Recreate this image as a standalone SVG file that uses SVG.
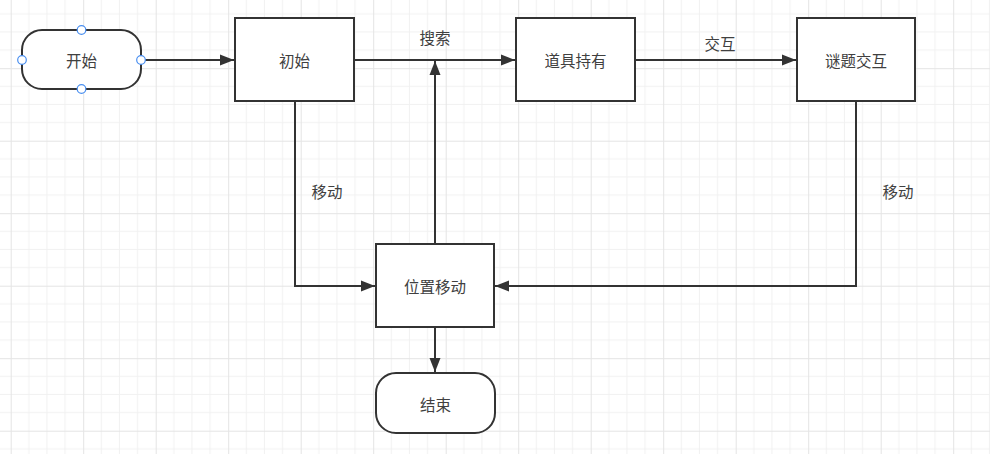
<svg xmlns="http://www.w3.org/2000/svg" width="990" height="454" viewBox="0 0 990 454">
<style>
.node{fill:#ffffff;stroke:#333333;stroke-width:2}
.lbl{font-family:"Noto Sans CJK SC","Noto Sans",sans-serif;font-size:15.5px;fill:#404040;text-anchor:middle;dominant-baseline:central}
.edge{fill:none;stroke:#333333;stroke-width:2}
.handle{fill:#ffffff;stroke:#4a8ff0;stroke-width:1.2}
</style>
<defs>
<pattern id="grid" patternUnits="userSpaceOnUse" x="10.7" y="-4.3" width="72.5" height="72.5">
<path d="M18.125 0V72.5M36.25 0V72.5M54.375 0V72.5M0 18.125H72.5M0 36.25H72.5M0 54.375H72.5" stroke="#f1f1f1" stroke-width="1" fill="none"/>
<path d="M0.5 0V72.5M0 0.5H72.5" stroke="#e4e4e4" stroke-width="1" fill="none"/>
</pattern>
<marker id="arr" markerUnits="userSpaceOnUse" markerWidth="16" markerHeight="12" refX="14" refY="6" orient="auto">
<path d="M0 0.5L14 6L0 11.5Z" fill="#333333"/>
</marker>
</defs>
<rect width="990" height="454" fill="#ffffff"/>
<rect width="990" height="454" fill="url(#grid)"/>
<g id="connectors">
<path class="edge" d="M141 60H234" marker-end="url(#arr)"/>
<path class="edge" d="M354 60H515" marker-end="url(#arr)"/>
<path class="edge" d="M635 60H796" marker-end="url(#arr)"/>
<path class="edge" d="M295 101V286H375" marker-end="url(#arr)"/>
<path class="edge" d="M856 101V286H495" marker-end="url(#arr)"/>
<path class="edge" d="M435 244V61" marker-end="url(#arr)"/>
<path class="edge" d="M435 327V372" marker-end="url(#arr)"/>
<text class="lbl" x="435" y="37">搜索</text>
<text class="lbl" x="720" y="43">交互</text>
<text class="lbl" x="327" y="191">移动</text>
<text class="lbl" x="898" y="191">移动</text>
</g>
<g id="start">
<rect class="node" x="22" y="30" width="119" height="59" rx="20" ry="20"/>
<text class="lbl" x="81.5" y="60">开始</text>
<circle class="handle" cx="81.5" cy="30" r="4.3"/>
<circle class="handle" cx="22" cy="60" r="4.3"/>
<circle class="handle" cx="141" cy="60" r="4.3"/>
<circle class="handle" cx="81.5" cy="89" r="4.3"/>
</g>
<g id="init">
<rect class="node" x="235" y="18" width="119" height="83"/>
<text class="lbl" x="294.5" y="60">初始</text>
</g>
<g id="item">
<rect class="node" x="516" y="18" width="119" height="83"/>
<text class="lbl" x="575.5" y="60">道具持有</text>
</g>
<g id="puzzle">
<rect class="node" x="797" y="18" width="118" height="83"/>
<text class="lbl" x="856" y="60">谜题交互</text>
</g>
<g id="move">
<rect class="node" x="376" y="244" width="118" height="83"/>
<text class="lbl" x="435" y="286">位置移动</text>
</g>
<g id="end">
<rect class="node" x="376" y="373" width="119" height="60" rx="20" ry="20"/>
<text class="lbl" x="435.5" y="404">结束</text>
</g>
</svg>
